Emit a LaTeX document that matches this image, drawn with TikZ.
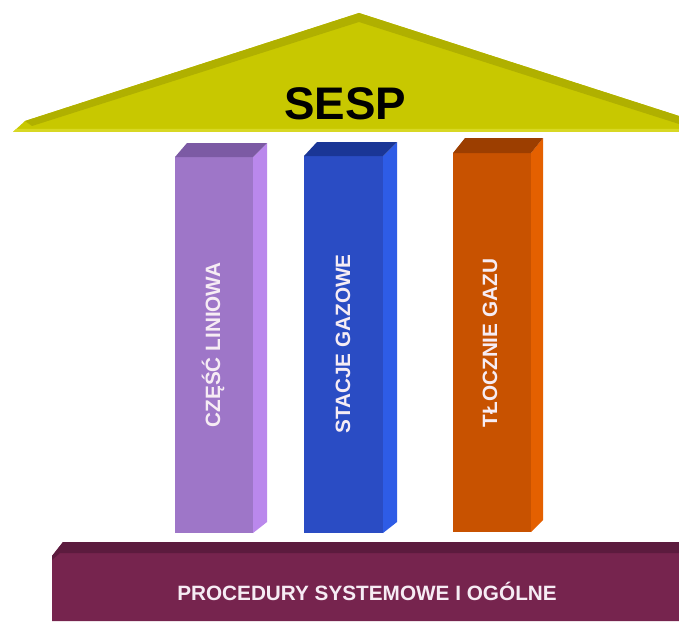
\documentclass[tikz,border=0pt]{standalone}
\usepackage{fontspec}
\setmainfont{Liberation Sans}
\usepackage{tikz}
\usetikzlibrary{positioning}
\usepackage{xcolor}
\definecolor{roofbg}{RGB}{200,200,0}
\definecolor{roofdark}{RGB}{176,176,0}
\definecolor{roofedge}{RGB}{216,216,36}
\definecolor{lilafront}{RGB}{158,118,200}
\definecolor{lilaside}{RGB}{186,136,236}
\definecolor{lilatop}{RGB}{124,90,164}
\definecolor{bluefront}{RGB}{42,76,196}
\definecolor{blueside}{RGB}{46,92,230}
\definecolor{bluetop}{RGB}{26,54,150}
\definecolor{orangefront}{RGB}{200,82,0}
\definecolor{orangeside}{RGB}{228,96,0}
\definecolor{orangetop}{RGB}{156,62,0}
\definecolor{basebg}{RGB}{118,36,78}
\definecolor{basetop}{RGB}{92,27,62}
\definecolor{labeltext}{RGB}{246,236,244}

\begin{document}
\begin{tikzpicture}[
    x=0.03cm, y=-0.03cm,
    title/.style = {font=\fontsize{39}{39}\selectfont\bfseries, text=black, inner sep=0pt},
    pillartext/.style = {font=\fontsize{17.7}{17.7}\selectfont\bfseries, text=labeltext,
      rotate=90, inner sep=0pt},
    basetext/.style = {font=\fontsize{17.7}{17.7}\selectfont\bfseries, text=labeltext, inner sep=0pt},
  ]
    \useasboundingbox[fill=white] (0,0) rectangle (679,621);

    % Roof
    \fill[roofbg]   (13,132) -- (25,121) -- (359,13) -- (679,116) -- (679,132) -- cycle;
    \fill[roofdark] (25,121) -- (359,13) -- (679,116) -- (679,124) -- (359,22) -- (32,126) -- cycle;
    \fill[roofedge] (16,129) -- (679,129) -- (679,132) -- (13,132) -- cycle;
    \node[title] (sesp) at (345,104) {SESP};

    % Pillar 1
    \fill[lilafront] (175,157) rectangle (253,533);
    \fill[lilaside]  (253,157) -- (267,143) -- (267,522) -- (253,533) -- cycle;
    \fill[lilatop]   (175,157) -- (187,143) -- (267,143) -- (253,157) -- cycle;
    \node[pillartext] (linia) at (213,345) {CZĘŚĆ LINIOWA};

    % Pillar 2
    \fill[bluefront] (304,156) rectangle (383,533);
    \fill[blueside]  (383,156) -- (397,142) -- (397,522) -- (383,533) -- cycle;
    \fill[bluetop]   (304,156) -- (317,142) -- (397,142) -- (383,156) -- cycle;
    \node[pillartext] (stacje) at (343,344) {STACJE GAZOWE};

    % Pillar 3
    \fill[orangefront] (453,153) rectangle (531,532);
    \fill[orangeside]  (531,153) -- (543,138) -- (543,520) -- (531,532) -- cycle;
    \fill[orangetop]   (453,153) -- (465,138) -- (543,138) -- (531,153) -- cycle;
    \node[pillartext] (tlocznie) at (490,343) {TŁOCZNIE GAZU};

    % Base
    \fill[basebg]  (52,556) -- (63,542) -- (679,542) -- (679,621) -- (52,621) -- cycle;
    \fill[basetop] (52,556) -- (63,542) -- (679,542) -- (679,553) -- (60,553) -- (52,560) -- cycle;
    \node[basetext] (proc) at (367,591) {PROCEDURY SYSTEMOWE I OGÓLNE};
  \end{tikzpicture}
\end{document}
